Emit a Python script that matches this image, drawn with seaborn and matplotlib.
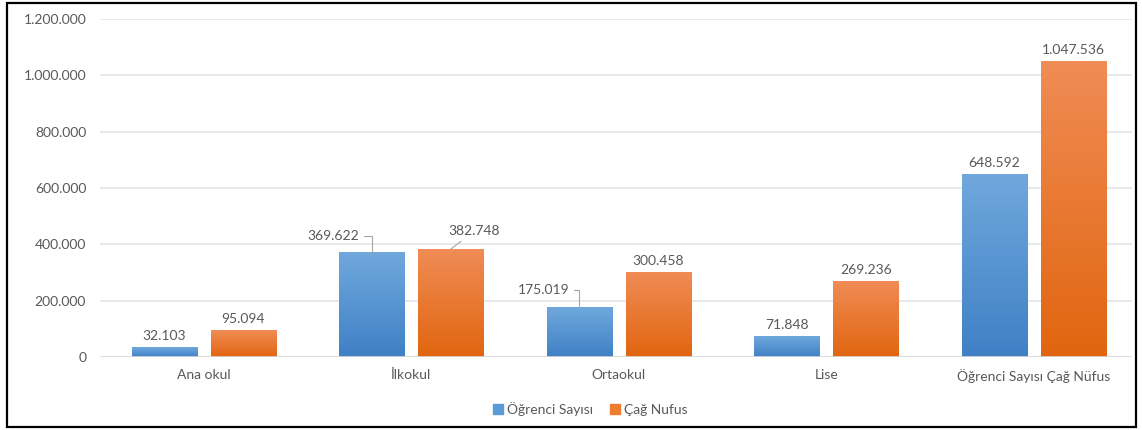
import numpy as np
import pandas as pd
import matplotlib
matplotlib.use("Agg")
import matplotlib.pyplot as plt
import matplotlib.patches as mpatches
from matplotlib.colors import LinearSegmentedColormap
import seaborn as sns

# Education levels and the two series
categories = ["Ana okul", "İlkokul", "Ortaokul", "Lise", "Öğrenci Sayısı Çağ Nüfus"]
ogrenci_sayisi = [32103, 369622, 175019, 71848, 648592]
cag_nufus = [95094, 382748, 300458, 269236, 1047536]
series_names = ["Öğrenci Sayısı", "Çağ Nufus"]
y_ticks = [0, 200000, 400000, 600000, 800000, 1000000, 1200000]

df = pd.DataFrame({
    "kategori": categories * 2,
    "seri": [series_names[0]] * len(categories) + [series_names[1]] * len(categories),
    "deger": ogrenci_sayisi + cag_nufus,
})

sns.set_theme(style="white")
plt.rcParams["font.family"] = ["Lato", "DejaVu Sans"]
text_color = "#595959"
grid_color = "#e3e6ea"

fig = plt.figure(figsize=(11.42, 4.30), dpi=100)
ax = fig.add_axes([0.0876, 0.1698, 0.904, 0.786])

palette = {series_names[0]: "#5b9bd5", series_names[1]: "#ed7d31"}
sns.barplot(data=df, x="kategori", y="deger", hue="seri", order=categories,
            hue_order=series_names, palette=palette, width=0.76, gap=0.175,
            saturation=1, legend=False, ax=ax, zorder=3)

# vertical gradient fills for each bar
gradients = {
    0: LinearSegmentedColormap.from_list("blue_grad", ["#3f80c5", "#70a8dd"]),
    1: LinearSegmentedColormap.from_list("orange_grad", ["#e1650f", "#f08c55"]),
}
grad = np.linspace(0, 1, 256).reshape(-1, 1)
for i, container in enumerate(ax.containers):
    for patch in container:
        x0, y0 = patch.get_x(), patch.get_y()
        w, h = patch.get_width(), patch.get_height()
        patch.set_facecolor("none")
        patch.set_edgecolor("none")
        ax.imshow(grad, cmap=gradients[i], aspect="auto", origin="lower",
                  extent=(x0, x0 + w, y0, y0 + h), zorder=3)

ax.set_xlim(-0.5, 4.475)
ax.set_ylim(0, 1200000)
ax.set_yticks(y_ticks)
ax.set_yticklabels([f"{v:,}".replace(",", ".") for v in y_ticks])
ax.set_xlabel("")
ax.set_ylabel("")
for s in ax.spines.values():
    s.set_visible(False)
ax.grid(axis="y", color=grid_color, linewidth=1.2, zorder=0)
ax.axhline(0, color="#d9d9d9", linewidth=1.2, zorder=4)
ax.tick_params(axis="both", length=0, labelsize=10, labelcolor=text_color)
ax.tick_params(axis="y", pad=10)
ax.tick_params(axis="x", pad=9)

# value labels; a few sit off to the side with a leader line
leader_offsets = {
    (0, 1): ((-28, 12), "angle,angleA=0,angleB=90,rad=0"),
    (1, 1): ((17, 13), "arc3"),
    (0, 2): ((-26, 13), "angle,angleA=0,angleB=90,rad=0"),
}
for i, container in enumerate(ax.containers):
    for j, patch in enumerate(container):
        val = patch.get_height()
        label = f"{int(round(val)):,}".replace(",", ".")
        xc = patch.get_x() + patch.get_width() / 2
        if (i, j) in leader_offsets:
            off, conn = leader_offsets[(i, j)]
            ax.annotate(label, xy=(xc, val), xytext=off, textcoords="offset points",
                        ha="center", va="center", fontsize=10, color=text_color,
                        arrowprops=dict(arrowstyle="-", color="#a6a6a6", lw=0.8,
                                        connectionstyle=conn, shrinkA=1, shrinkB=0),
                        zorder=5)
        else:
            ax.annotate(label, xy=(xc, val), xytext=(0, 4), textcoords="offset points",
                        ha="center", va="bottom", fontsize=10, color=text_color, zorder=5)

handles = [mpatches.Patch(color=palette[n], label=n) for n in series_names]
leg = fig.legend(handles=handles, loc="center", bbox_to_anchor=(0.517, 0.049), ncol=2,
                 frameon=False, fontsize=10, handlelength=0.7, handleheight=0.7,
                 handletextpad=0.3, columnspacing=1.2)
for t in leg.get_texts():
    t.set_color(text_color)

# outer frame around the chart
fig.patches.append(mpatches.Rectangle((0.0065, 0.006), 0.9885, 0.988, transform=fig.transFigure,
                                      fill=False, edgecolor="black", linewidth=1.6))

fig.savefig("out.png", dpi=100)
